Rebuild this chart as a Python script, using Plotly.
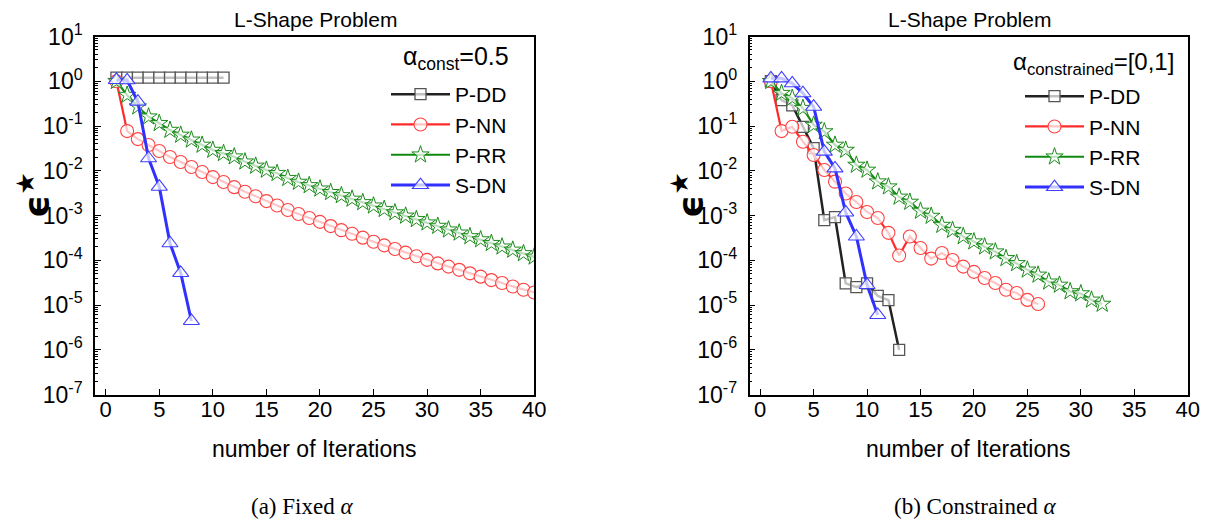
import plotly.graph_objects as go

# ---------------- data: (a) fixed alpha ----------------
a_pdd_iter = list(range(1, 12))
a_pdd_err = [1.2, 1.2, 1.2, 1.2, 1.2, 1.2, 1.2, 1.2, 1.2, 1.2, 1.2]

a_pnn_iter = list(range(1, 41))
a_pnn_err = [1.0, 0.077, 0.051, 0.0376, 0.0276, 0.0203, 0.0157, 0.0121, 0.0094, 0.0072,
             0.0056, 0.0043, 0.0034, 0.0027, 0.0021, 0.00167, 0.00133, 0.00108, 8.8e-4, 7.2e-4,
             5.8e-4, 4.7e-4, 3.9e-4, 3.2e-4, 2.6e-4, 2.15e-4, 1.78e-4, 1.48e-4, 1.23e-4, 1.02e-4,
             8.5e-5, 7.2e-5, 6.1e-5, 5.1e-5, 4.3e-5, 3.6e-5, 3.1e-5, 2.6e-5, 2.2e-5, 1.9e-5]

a_prr_iter = list(range(1, 41))
a_prr_err = [1.0, 0.49, 0.27, 0.161, 0.115, 0.081, 0.063, 0.049, 0.0376, 0.029,
             0.0245, 0.0206, 0.0159, 0.0128, 0.0104, 0.0088, 0.0068, 0.0056, 0.0047, 0.00395,
             0.0033, 0.0028, 0.00234, 0.00196, 0.00165, 0.00138, 0.00116, 9.8e-4, 8.2e-4, 6.9e-4,
             5.8e-4, 4.8e-4, 4.1e-4, 3.4e-4, 2.9e-4, 2.4e-4, 2.0e-4, 1.7e-4, 1.42e-4, 1.19e-4]

a_sdn_iter = list(range(1, 9))
a_sdn_err = [1.07, 1.05, 0.35, 0.019, 0.0044, 2.4e-4, 5.2e-5, 4.4e-6]

# ---------------- data: (b) constrained alpha ----------------
b_pdd_iter = list(range(1, 14))
b_pdd_err = [1.0, 0.38, 0.29, 0.096, 0.032, 7.9e-4, 9.2e-4, 3.05e-5, 2.5e-5, 3.05e-5,
             1.6e-5, 1.29e-5, 9.9e-7]

b_pnn_iter = list(range(1, 27))
b_pnn_err = [1.0, 0.077, 0.096, 0.0446, 0.0225, 0.0104, 0.0057, 0.0031, 0.0020, 0.0012,
             8.8e-4, 4.1e-4, 1.28e-4, 3.4e-4, 1.88e-4, 1.09e-4, 1.45e-4, 1.01e-4, 7.2e-5, 5.5e-5,
             4.0e-5, 3.1e-5, 2.2e-5, 1.85e-5, 1.3e-5, 1.05e-5]

b_prr_iter = list(range(1, 33))
b_prr_err = [1.0, 0.54, 0.42, 0.25, 0.105, 0.075, 0.0376, 0.029, 0.0134, 0.0104,
             0.0057, 0.0044, 0.0026, 0.0020, 0.00126, 9.7e-4, 6.1e-4, 4.7e-4, 3.4e-4, 2.6e-4,
             2.0e-4, 1.55e-4, 1.1e-4, 8.5e-5, 6.1e-5, 4.7e-5, 3.3e-5, 2.8e-5, 2.0e-5, 1.8e-5,
             1.3e-5, 1.05e-5]

b_sdn_iter = list(range(1, 12))
b_sdn_err = [1.16, 1.16, 0.9, 0.54, 0.27, 0.0267, 0.0113, 0.00117, 3.4e-4, 2.8e-5, 6.0e-6]

# ---------------- axis ticks ----------------
x_ticks = [0, 5, 10, 15, 20, 25, 30, 35, 40]
y_exps = [-7, -6, -5, -4, -3, -2, -1, 0, 1]
y_tickvals = [10.0 ** e for e in y_exps]
y_ticktext = ["10<sup>%d</sup>" % e for e in y_exps]
y_minor = [m * 10.0 ** e for e in y_exps[:-1] for m in range(2, 10)]

SANS = "Liberation Sans, Arial, sans-serif"
SERIF = "Liberation Serif, Times New Roman, serif"
W, H = 1207, 521
HALO = "rgba(255,255,255,0.72)"

styles = {
    "P-DD": dict(line=dict(color="#222222", width=2.5),
                 marker=dict(symbol="square", size=11, color=HALO,
                             line=dict(color="#555555", width=1.3))),
    "P-NN": dict(line=dict(color="#ff2b2b", width=2.2),
                 marker=dict(symbol="circle", size=13, color=HALO,
                             line=dict(color="#ff4040", width=1.1))),
    "P-RR": dict(line=dict(color="#0f8a0f", width=2.2),
                 marker=dict(symbol="star", size=13, color=HALO,
                             line=dict(color="#1a8a1a", width=1.0))),
    "S-DN": dict(line=dict(color="#3030ff", width=3),
                 marker=dict(symbol="triangle-up", size=14, color=HALO,
                             line=dict(color="#4040ff", width=1.1))),
}

fig = go.Figure()

panels = [
    ("x", "y", "legend", [("P-DD", a_pdd_iter, a_pdd_err), ("P-NN", a_pnn_iter, a_pnn_err),
                          ("P-RR", a_prr_iter, a_prr_err), ("S-DN", a_sdn_iter, a_sdn_err)]),
    ("x2", "y2", "legend2", [("P-DD", b_pdd_iter, b_pdd_err), ("P-NN", b_pnn_iter, b_pnn_err),
                             ("P-RR", b_prr_iter, b_prr_err), ("S-DN", b_sdn_iter, b_sdn_err)]),
]
for xa, ya, leg, series in panels:
    for name, xs, ys in series:
        fig.add_trace(go.Scatter(x=xs, y=ys, name=name, mode="lines+markers",
                                 xaxis=xa, yaxis=ya, legend=leg, **styles[name]))

# frame extents in pixels
left_dom = [95 / W, 534.2 / W]
right_dom = [749.5 / W, 1187.7 / W]
y_dom = [1 - 394.5 / H, 1 - 36.5 / H]

xcommon = dict(range=[-1, 40], tickvals=x_ticks, ticks="inside", ticklen=6, tickwidth=1.2,
               tickcolor="black", showline=True, linecolor="black", linewidth=1.5,
               mirror=True, showgrid=False, zeroline=False, automargin=False,
               tickfont=dict(family=SANS, size=22, color="black"), ticklabelstandoff=-6)
ycommon = dict(type="log", range=[-7, 1], tickvals=y_tickvals, ticktext=y_ticktext,
               ticks="inside", ticklen=6, tickwidth=1.2, tickcolor="black",
               minor=dict(tickmode="array", tickvals=y_minor, ticks="inside", ticklen=3,
                          tickwidth=1, tickcolor="black", showgrid=False),
               showline=True, linecolor="black", linewidth=1.5, mirror=True,
               showgrid=False, zeroline=False, automargin=False,
               tickfont=dict(family=SANS, size=23, color="black"), ticklabelstandoff=6)

legend_common = dict(bgcolor="rgba(0,0,0,0)", borderwidth=0, xanchor="left", yanchor="top",
                     font=dict(family=SANS, size=21, color="black"), itemwidth=59,
                     tracegroupgap=0)

fig.update_layout(
    width=W, height=H, margin=dict(l=0, r=0, t=0, b=0, pad=0, autoexpand=False),
    paper_bgcolor="white", plot_bgcolor="white",
    xaxis=dict(domain=left_dom, anchor="y", **xcommon),
    yaxis=dict(domain=y_dom, anchor="x", **ycommon),
    xaxis2=dict(domain=right_dom, anchor="y2", **xcommon),
    yaxis2=dict(domain=y_dom, anchor="x2", **ycommon),
    legend=dict(x=386 / W, y=1 - 74 / H, **legend_common),
    legend2=dict(x=1020 / W, y=1 - 76 / H, **legend_common),
    showlegend=True,
)

annotations = [
    dict(text="L-Shape Problem", x=315 / W, y=1 - 20 / H, font=dict(family=SANS, size=21)),
    dict(text="L-Shape Problem", x=969 / W, y=1 - 20 / H, font=dict(family=SANS, size=21)),
    dict(text="α<sub>const</sub>=0.5", x=511 / W, y=1 - 58 / H, xanchor="right",
         font=dict(family=SANS, size=25)),
    dict(text="α<sub>constrained</sub>=[0,1]", x=1176 / W, y=1 - 63 / H, xanchor="right",
         font=dict(family=SANS, size=24)),
    dict(text="number of Iterations", x=314.6 / W, y=1 - 449 / H, font=dict(family=SANS, size=23)),
    dict(text="number of Iterations", x=968.6 / W, y=1 - 449 / H, font=dict(family=SANS, size=23)),
    dict(text="<b>ϵ</b><sup>★</sup>", x=34 / W, y=1 - 195 / H, textangle=-90,
         font=dict(family="DejaVu Sans", size=36)),
    dict(text="<b>ϵ</b><sup>★</sup>", x=688 / W, y=1 - 195 / H, textangle=-90,
         font=dict(family="DejaVu Sans", size=36)),
    dict(text="(a) Fixed <i>α</i>", x=302 / W, y=1 - 506 / H, font=dict(family=SERIF, size=23)),
    dict(text="(b) Constrained <i>α</i>", x=975 / W, y=1 - 506 / H, font=dict(family=SERIF, size=23)),
]
for a in annotations:
    a.setdefault("xanchor", "center")
    a.update(xref="paper", yref="paper", showarrow=False, yanchor="middle")
    a["font"]["color"] = "black"
fig.update_layout(annotations=annotations)

fig.write_html("out.html")
